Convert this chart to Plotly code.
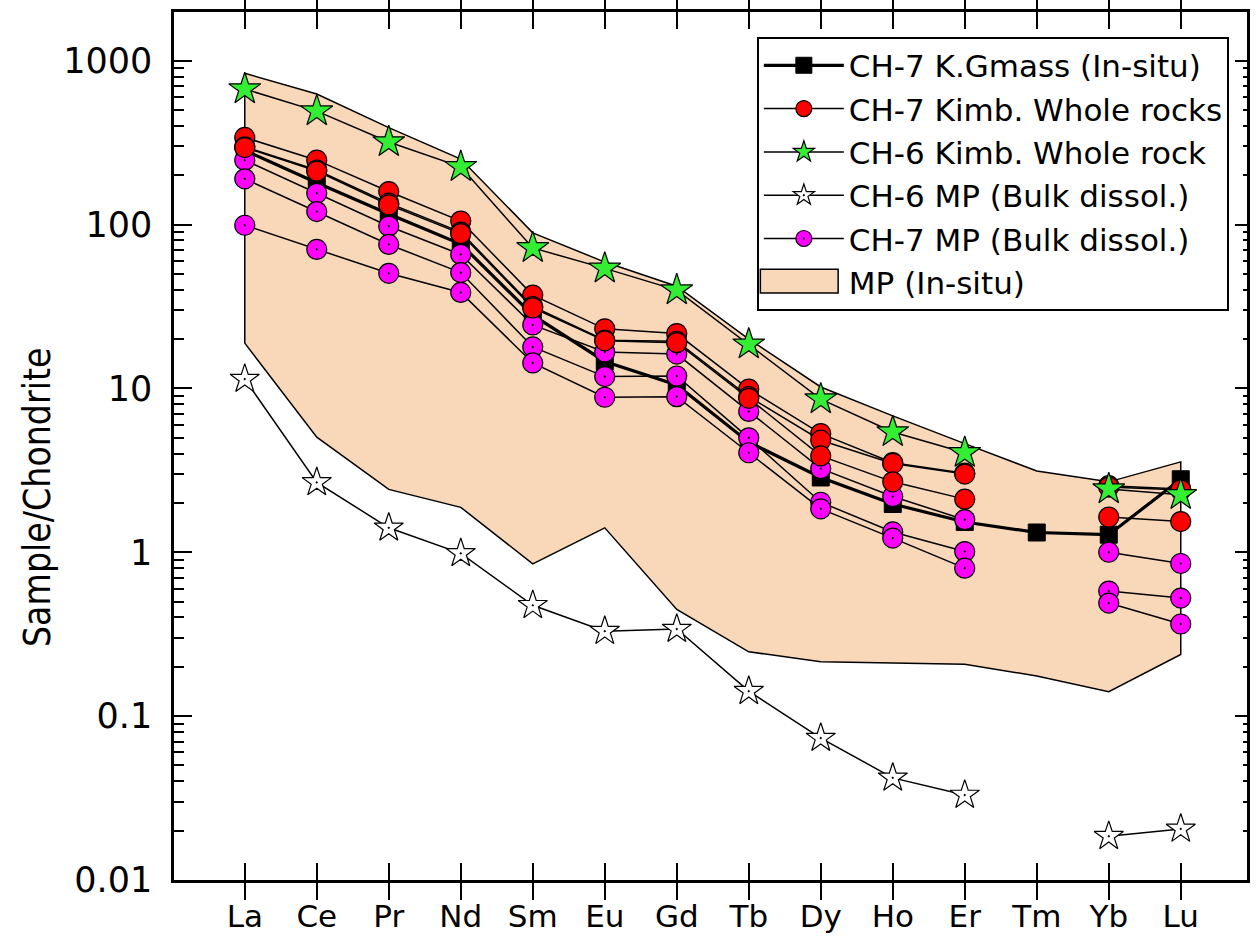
import plotly.graph_objects as go

elements = ["La", "Ce", "Pr", "Nd", "Sm", "Eu", "Gd", "Tb", "Dy", "Ho", "Er", "Tm", "Yb", "Lu"]
xi = list(range(len(elements)))

# CH-7 K.Gmass (In-situ)
kgmass = [284, 180, 116, 76, 28, 14.6, 10.5, 4.7, 2.86, 1.97, 1.53, 1.32, 1.28, 2.79]

# CH-7 Kimb. Whole rocks
red1 = [340, 247, 159, 105, 37.1, 23.1, 21.6, 9.9, 5.3, 3.52, 3.04, None, 2.55, 2.43]
red2 = [298, 215, 135, 90, 31.6, 19.7, 19.4, 8.9, 4.83, 3.48, 3.0, None, 2.5, 2.4]
red3 = [295, 212, 132, 88, 31.0, 19.5, 19.0, 8.7, 3.87, 2.69, 2.11, None, 1.64, 1.54]

# CH-6 Kimb. Whole rock
green = [671, 492, 319, 225, 72, 54, 39.8, 18.6, 8.6, 5.42, 4.05, None, 2.43, 2.24]

# CH-6 MP (Bulk dissol.)
white = [11.4, 2.67, 1.41, 0.985, 0.475, 0.33, 0.34, 0.142, 0.0735, 0.042, 0.033, None, 0.0185, 0.0205]

# CH-7 MP (Bulk dissol.)
mag1 = [247, 155, 97.7, 65.7, 24.4, 16.7, 16.2, 7.24, 3.24, 2.19, 1.58, None, 1.0, 0.854]
mag2 = [190, 120, 75.6, 50.9, 17.9, 11.8, 11.9, 4.99, 2.02, 1.33, 1.01, None, 0.58, 0.525]
mag3 = [99, 70.5, 50.4, 38.5, 14.3, 8.83, 8.9, 4.05, 1.84, 1.22, 0.80, None, 0.49, 0.365]

# MP (In-situ) envelope
env_upper = [838, 626, 390, 251, 89, 59, 42, 20, 10.2, 6.8, 4.6, 3.13, 2.69, 3.56]
env_lower = [18.9, 5.04, 2.42, 1.88, 0.85, 1.41, 0.448, 0.247, 0.215, 0.211, 0.207, 0.176, 0.141, 0.238]

ytickvals = [0.01, 0.1, 1, 10, 100, 1000]
yticktext = ["0.01", "0.1", "1", "10", "100", "1000"]

FONT = "DejaVu Sans"
FILL = "#F9D8BA"

# plot-area geometry (pixels) used to place layout items
W, H = 1257, 941
ML, MR, MT, MB = 174, 7, 12, 55
PW, PH = W - ML - MR, H - MT - MB


def px(xp):
    return (xp - ML) / PW


def py(yp):
    return (H - MB - yp) / PH


fig = go.Figure()

# envelope
fig.add_trace(go.Scatter(
    x=xi + xi[::-1] + [xi[0]],
    y=env_upper + env_lower[::-1] + [env_upper[0]],
    mode="lines", fill="toself", fillcolor=FILL,
    line=dict(color="black", width=1.5),
    name="MP (In-situ)", showlegend=False, hoverinfo="skip"))

# white stars
fig.add_trace(go.Scatter(
    x=xi, y=white, mode="lines+markers", name="CH-6 MP (Bulk dissol.)",
    line=dict(color="black", width=1.5),
    marker=dict(symbol="star-dot", size=22, color="white", line=dict(color="black", width=1.2)),
    legendrank=4, connectgaps=False))

# black squares (thick line)
fig.add_trace(go.Scatter(
    x=xi, y=kgmass, mode="lines+markers", name="CH-7 K.Gmass (In-situ)",
    line=dict(color="black", width=3.2),
    marker=dict(symbol="square", size=17, color="black", line=dict(color="black", width=1)),
    legendrank=1))

# magenta
for i, s in enumerate([mag1, mag2, mag3]):
    fig.add_trace(go.Scatter(
        x=xi, y=s, mode="lines+markers", name="CH-7 MP (Bulk dissol.)",
        line=dict(color="black", width=1.5),
        marker=dict(symbol="circle-dot", size=20, color="#FF00FF", line=dict(color="black", width=1.2)),
        legendrank=5, showlegend=(i == 0), legendgroup="mag", connectgaps=False))

# red
for i, s in enumerate([red1, red2, red3]):
    fig.add_trace(go.Scatter(
        x=xi, y=s, mode="lines+markers", name="CH-7 Kimb. Whole rocks",
        line=dict(color="black", width=1.5),
        marker=dict(symbol="circle", size=20, color="#FF0000", line=dict(color="black", width=1.2)),
        legendrank=2, showlegend=(i == 0), legendgroup="red", connectgaps=False))

# green stars
fig.add_trace(go.Scatter(
    x=xi, y=green, mode="lines+markers", name="CH-6 Kimb. Whole rock",
    line=dict(color="black", width=1.5),
    marker=dict(symbol="star", size=24, color="#33EE33", line=dict(color="black", width=1.2)),
    legendrank=3, connectgaps=False))

# legend entry for the envelope (swatch drawn as a shape below)
fig.add_trace(go.Scatter(
    x=[None], y=[None], mode="lines", name="MP (In-situ)",
    line=dict(color="rgba(0,0,0,0)", width=1), legendrank=6, hoverinfo="skip"))

# dummy trace for right-hand axis ticks
fig.add_trace(go.Scatter(x=[None], y=[None], yaxis="y2", showlegend=False, hoverinfo="skip"))

LEG_FONT = 31

fig.update_layout(
    width=W, height=H,
    margin=dict(l=ML, r=MR, t=MT, b=MB),
    plot_bgcolor="white", paper_bgcolor="white",
    font=dict(family=FONT, size=30, color="black"),
    showlegend=True,
    legend=dict(
        x=px(1232), y=py(37), xanchor="right", yanchor="top",
        bgcolor="rgba(0,0,0,0)", bordercolor="black", borderwidth=1.8,
        font=dict(family=FONT, size=LEG_FONT, color="black"),
        itemwidth=80, tracegroupgap=0,
    ),
    xaxis=dict(
        range=[-0.983, 13.92], tickvals=xi, ticktext=elements,
        showgrid=False, zeroline=False,
        showline=True, linecolor="black", linewidth=2.5, mirror="allticks",
        ticks="inside", ticklen=17, tickwidth=2, tickcolor="black",
        tickfont=dict(family=FONT, size=31), ticklabelstandoff=7,
    ),
    yaxis=dict(
        type="log", range=[-2, 3.297],
        tickvals=ytickvals, ticktext=yticktext,
        showgrid=False, zeroline=False,
        showline=True, linecolor="black", linewidth=2.5, mirror=True,
        ticks="inside", ticklen=18, tickwidth=2, tickcolor="black",
        minor=dict(ticks="inside", ticklen=10, tickwidth=2, tickcolor="black",
                   dtick="D1", showgrid=False),
        tickfont=dict(family=FONT, size=35), ticklabelstandoff=12,
    ),
    yaxis2=dict(
        type="log", range=[-2, 3.297], overlaying="y", side="right",
        tickvals=ytickvals, showticklabels=False, showgrid=False, zeroline=False,
        ticks="inside", ticklen=12, tickwidth=2, tickcolor="black",
        minor=dict(ticks="inside", ticklen=4, tickwidth=2, tickcolor="black",
                   dtick="D1", showgrid=False),
    ),
    annotations=[dict(
        text="Sample/Chondrite", textangle=-90, showarrow=False,
        xref="paper", yref="paper", x=px(37), y=py(501),
        xanchor="center", yanchor="middle",
        font=dict(family="DejaVu Sans Condensed, Liberation Sans Narrow, DejaVu Sans", size=37),
    )],
    shapes=[dict(
        type="rect", xref="paper", yref="paper",
        x0=px(762), x1=px(840), y0=py(271), y1=py(295),
        fillcolor=FILL, line=dict(color="black", width=1.5), layer="above",
    )],
)

fig.write_html("out.html")
